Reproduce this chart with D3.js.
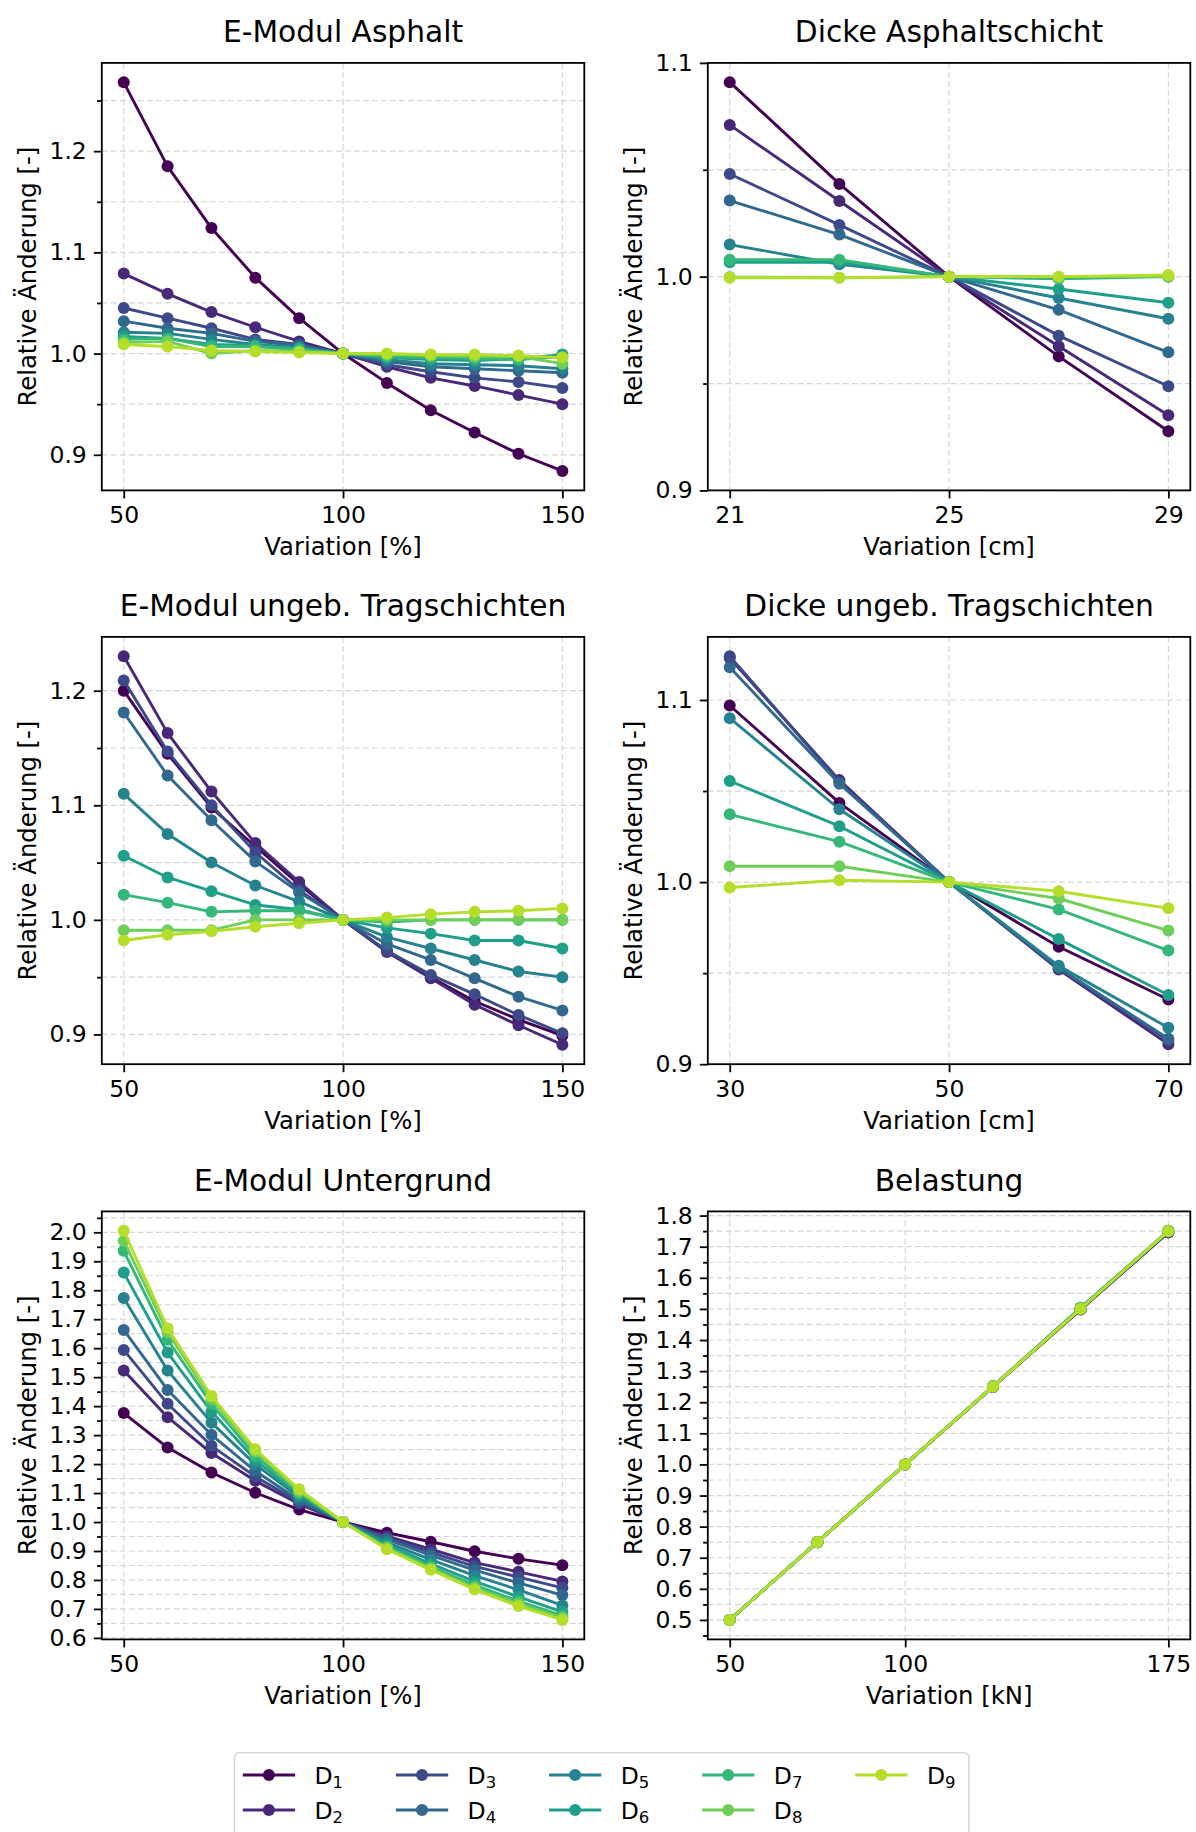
<!DOCTYPE html>
<html>
<head>
<meta charset="utf-8">
<script src="https://cdn.jsdelivr.net/npm/d3@7"></script>
<style>
  body { margin: 0; background: #ffffff; }
  svg text { font-family: "DejaVu Sans", "Noto Sans", sans-serif; fill: #000; }
</style>
</head>
<body>
<svg id="chart" width="1196" height="1832"></svg>
<script>
// ---------------- DATA ----------------
const seriesNames = ["1", "2", "3", "4", "5", "6", "7", "8", "9"]; // D subscripts
const seriesColors = ["#440154", "#482878", "#3e4989", "#31688e", "#26828e",
                      "#1f9e89", "#35b779", "#6ece58", "#b5de2b"];

const panelTitles = ["E-Modul Asphalt", "Dicke Asphaltschicht",
                     "E-Modul ungeb. Tragschichten", "Dicke ungeb. Tragschichten",
                     "E-Modul Untergrund", "Belastung"];
const xAxisLabels = ["Variation [%]", "Variation [cm]", "Variation [%]",
                     "Variation [cm]", "Variation [%]", "Variation [kN]"];
const yAxisLabel = "Relative Änderung [-]";

const xPercent = [50, 60, 70, 80, 90, 100, 110, 120, 130, 140, 150];
const xAsphaltThickness = [21, 23, 25, 27, 29];
const xBaseThickness = [30, 40, 50, 60, 70];
const xLoad = [50, 75, 100, 125, 150, 175];

const xTicksPercent = [50, 100, 150];
const xTicksAsphaltThickness = [21, 25, 29];
const xTicksBaseThickness = [30, 50, 70];
const xTicksLoad = [50, 100, 175];

// E-Modul Asphalt (rows D1..D9)
const eModulAsphalt = [
  [1.268, 1.185, 1.124, 1.075, 1.035, 1.0, 0.971, 0.944, 0.922, 0.901, 0.884],
  [1.079, 1.059, 1.041, 1.026, 1.012, 1.0, 0.987, 0.976, 0.968, 0.959, 0.950],
  [1.045, 1.035, 1.025, 1.014, 1.009, 1.0, 0.989, 0.982, 0.976, 0.972, 0.966],
  [1.032, 1.025, 1.020, 1.012, 1.008, 1.0, 0.992, 0.987, 0.985, 0.983, 0.981],
  [1.021, 1.020, 1.014, 1.009, 1.006, 1.0, 0.994, 0.990, 0.989, 0.988, 0.985],
  [1.017, 1.015, 1.009, 1.008, 1.005, 1.0, 0.996, 0.994, 0.993, 0.995, 0.999],
  [1.014, 1.015, 1.007, 1.007, 1.004, 1.0, 0.997, 0.996, 0.995, 0.994, 0.997],
  [1.011, 1.012, 1.000, 1.003, 1.002, 1.0, 0.999, 0.998, 0.997, 0.997, 0.990],
  [1.009, 1.007, 1.003, 1.002, 1.001, 1.0, 1.000, 0.999, 0.999, 0.998, 0.996]
];

// Dicke Asphaltschicht
const dickeAsphalt = [
  [1.091, 1.0434, 1.0, 0.9627, 0.9277],
  [1.071, 1.0354, 1.0, 0.9674, 0.9352],
  [1.048, 1.0242, 1.0, 0.9724, 0.9487],
  [1.0356, 1.0197, 1.0, 0.9845, 0.9646],
  [1.015, 1.0058, 1.0, 0.9900, 0.9803],
  [1.0067, 1.0067, 1.0, 0.9942, 0.9878],
  [1.0079, 1.0079, 1.0, 0.9990, 1.0000],
  [0.9998, 0.9995, 1.0, 1.0000, 1.0000],
  [0.9995, 0.9995, 1.0, 1.0000, 1.0008]
];

// E-Modul ungeb. Tragschichten
const eModulTragschicht = [
  [1.200, 1.145, 1.098, 1.064, 1.031, 1.0, 0.973, 0.950, 0.929, 0.913, 0.899],
  [1.230, 1.163, 1.112, 1.067, 1.033, 1.0, 0.972, 0.949, 0.926, 0.908, 0.891],
  [1.209, 1.147, 1.100, 1.059, 1.026, 1.0, 0.973, 0.952, 0.935, 0.917, 0.901],
  [1.181, 1.126, 1.087, 1.051, 1.024, 1.0, 0.979, 0.965, 0.949, 0.933, 0.921],
  [1.110, 1.075, 1.050, 1.030, 1.016, 1.0, 0.985, 0.975, 0.965, 0.955, 0.950],
  [1.056, 1.037, 1.025, 1.013, 1.009, 1.0, 0.993, 0.988, 0.982, 0.982, 0.975],
  [1.022, 1.015, 1.007, 1.008, 1.008, 1.0, 0.998, 1.000, 1.000, 1.000, 1.000],
  [0.991, 0.991, 0.991, 1.000, 1.000, 1.0, 1.000, 1.000, 1.000, 1.000, 1.000],
  [0.982, 0.987, 0.990, 0.994, 0.997, 1.0, 1.002, 1.005, 1.007, 1.008, 1.010]
];

// Dicke ungeb. Tragschichten
const dickeTragschicht = [
  [1.097, 1.0435, 1.0, 0.9645, 0.9355],
  [1.123, 1.056, 1.0, 0.952, 0.911],
  [1.124, 1.055, 1.0, 0.9525, 0.913],
  [1.118, 1.054, 1.0, 0.953, 0.914],
  [1.090, 1.040, 1.0, 0.954, 0.920],
  [1.0555, 1.0307, 1.0, 0.9687, 0.938],
  [1.0372, 1.0222, 1.0, 0.985, 0.9624],
  [1.0087, 1.0087, 1.0, 0.991, 0.9734],
  [0.997, 1.001, 1.0, 0.995, 0.9856]
];

// E-Modul Untergrund
const eModulUntergrund = [
  [1.376, 1.257, 1.171, 1.101, 1.043, 1.0, 0.963, 0.932, 0.899, 0.873, 0.851],
  [1.523, 1.362, 1.238, 1.142, 1.062, 1.0, 0.951, 0.906, 0.860, 0.828, 0.795],
  [1.594, 1.408, 1.263, 1.157, 1.068, 1.0, 0.946, 0.895, 0.847, 0.810, 0.773],
  [1.663, 1.456, 1.301, 1.176, 1.075, 1.0, 0.940, 0.885, 0.834, 0.790, 0.748],
  [1.773, 1.523, 1.343, 1.199, 1.085, 1.0, 0.930, 0.870, 0.815, 0.766, 0.712],
  [1.861, 1.585, 1.381, 1.214, 1.093, 1.0, 0.922, 0.856, 0.795, 0.742, 0.690],
  [1.936, 1.629, 1.408, 1.228, 1.100, 1.0, 0.915, 0.846, 0.782, 0.727, 0.677],
  [1.971, 1.655, 1.424, 1.243, 1.106, 1.0, 0.910, 0.840, 0.773, 0.718, 0.670],
  [2.005, 1.669, 1.435, 1.251, 1.113, 1.0, 0.906, 0.835, 0.767, 0.710, 0.662]
];

// Belastung
const belastung = [
  [0.500, 0.750, 1.0, 1.249, 1.498, 1.746],
  [0.500, 0.750, 1.0, 1.249, 1.499, 1.747],
  [0.500, 0.750, 1.0, 1.250, 1.500, 1.748],
  [0.500, 0.751, 1.0, 1.250, 1.501, 1.749],
  [0.500, 0.751, 1.0, 1.251, 1.503, 1.750],
  [0.500, 0.751, 1.0, 1.251, 1.504, 1.751],
  [0.500, 0.751, 1.0, 1.251, 1.503, 1.751],
  [0.500, 0.751, 1.0, 1.251, 1.502, 1.751],
  [0.500, 0.750, 1.0, 1.250, 1.500, 1.750]
];

// ---------------- LAYOUT ----------------
const svg = d3.select("#chart");
const colBounds = [[101.8, 584.3], [707.8, 1190.3]];
const rowBounds = [[62.9, 490.4], [636.9, 1064.2], [1211.4, 1639.4]];

const panels = [
  { data: eModulAsphalt, xs: xPercent, xTicks: xTicksPercent, yFix: [null, null] },
  { data: dickeAsphalt, xs: xAsphaltThickness, xTicks: xTicksAsphaltThickness, yFix: [0.9, 1.1] },
  { data: eModulTragschicht, xs: xPercent, xTicks: xTicksPercent, yFix: [null, null] },
  { data: dickeTragschicht, xs: xBaseThickness, xTicks: xTicksBaseThickness, yFix: [0.9, null] },
  { data: eModulUntergrund, xs: xPercent, xTicks: xTicksPercent, yFix: [null, null] },
  { data: belastung, xs: xLoad, xTicks: xTicksLoad, yFix: [null, null] }
];

const FONT_TICK = 23.5, FONT_LABEL = 24.3, FONT_TITLE = 29.7;
const GRID_COLOR = "#d6d6d6";
const MARKER_R = 6.0;

panels.forEach((p, idx) => {
  const col = idx % 2, row = Math.floor(idx / 2);
  const [x0, x1] = colBounds[col];
  const [y0, y1] = rowBounds[row];

  const xExt = d3.extent(p.xs);
  const xPad = (xExt[1] - xExt[0]) * 0.05;
  const x = d3.scaleLinear().domain([xExt[0] - xPad, xExt[1] + xPad]).range([x0, x1]);

  const allY = p.data.flat();
  const yExt = d3.extent(allY);
  const yPad = (yExt[1] - yExt[0]) * 0.05;
  const yLo = p.yFix[0] !== null ? p.yFix[0] : yExt[0] - yPad;
  const yHi = p.yFix[1] !== null ? p.yFix[1] : yExt[1] + yPad;
  const y = d3.scaleLinear().domain([yLo, yHi]).range([y1, y0]);

  const kLo = Math.ceil(yLo * 20 - 1e-6), kHi = Math.floor(yHi * 20 + 1e-6);
  const majorY = [], minorY = [];
  for (let k = kLo; k <= kHi; k++) {
    if (k % 2 === 0) majorY.push(k / 20); else minorY.push(k / 20);
  }

  const g = svg.append("g");

  // grid
  const grid = g.append("g");
  majorY.concat(minorY).forEach(v => {
    grid.append("line").attr("x1", x0).attr("x2", x1).attr("y1", y(v)).attr("y2", y(v))
      .attr("stroke", GRID_COLOR).attr("stroke-width", 1.2).attr("stroke-dasharray", "6,3");
  });
  p.xTicks.forEach(v => {
    grid.append("line").attr("x1", x(v)).attr("x2", x(v)).attr("y1", y0).attr("y2", y1)
      .attr("stroke", GRID_COLOR).attr("stroke-width", 1.2).attr("stroke-dasharray", "6,3");
  });

  // series
  const line = d3.line().x((d, i) => x(p.xs[i])).y(d => y(d));
  p.data.forEach((vals, si) => {
    const sg = g.append("g");
    sg.append("path").datum(vals).attr("d", line)
      .attr("fill", "none").attr("stroke", seriesColors[si]).attr("stroke-width", 2.9)
      .attr("stroke-linejoin", "round");
    sg.selectAll("circle").data(vals).join("circle")
      .attr("cx", (d, i) => x(p.xs[i])).attr("cy", d => y(d)).attr("r", MARKER_R)
      .attr("fill", seriesColors[si]);
  });

  // frame
  g.append("rect").attr("x", x0).attr("y", y0).attr("width", x1 - x0).attr("height", y1 - y0)
    .attr("fill", "none").attr("stroke", "#000").attr("stroke-width", 1.8);

  // axes
  const xAxis = d3.axisBottom(x).tickValues(p.xTicks).tickFormat(d3.format("d"))
    .tickSize(8).tickPadding(8).tickSizeOuter(0);
  const gx = g.append("g").attr("transform", `translate(0,${y1})`).call(xAxis);
  const yAxis = d3.axisLeft(y).tickValues(majorY).tickFormat(d3.format(".1f"))
    .tickSize(8).tickPadding(7).tickSizeOuter(0);
  const gy = g.append("g").attr("transform", `translate(${x0},0)`).call(yAxis);
  const yAxisMinor = d3.axisLeft(y).tickValues(minorY).tickFormat("")
    .tickSize(4.7).tickSizeOuter(0);
  const gym = g.append("g").attr("transform", `translate(${x0},0)`).call(yAxisMinor);
  [gx, gy, gym].forEach(a => {
    a.select(".domain").remove();
    a.selectAll(".tick line").attr("stroke", "#000").attr("stroke-width", 1.8);
    a.selectAll(".tick text").attr("font-size", FONT_TICK)
      .attr("font-family", "DejaVu Sans").attr("fill", "#000");
  });

  // labels
  g.append("text").attr("x", (x0 + x1) / 2).attr("y", y0 - 20.5)
    .attr("text-anchor", "middle").attr("font-size", FONT_TITLE).text(panelTitles[idx]);
  g.append("text").attr("x", (x0 + x1) / 2).attr("y", y1 + 65)
    .attr("text-anchor", "middle").attr("font-size", FONT_LABEL).text(xAxisLabels[idx]);
  g.append("text")
    .attr("transform", `translate(${x0 - 66},${(y0 + y1) / 2}) rotate(-90)`)
    .attr("text-anchor", "middle").attr("font-size", FONT_LABEL).text(yAxisLabel);
});

// ---------------- LEGEND ----------------
const legend = svg.append("g");
legend.append("rect").attr("x", 234.5).attr("y", 1752.7).attr("width", 734.5).attr("height", 120)
  .attr("rx", 5).attr("fill", "#fff").attr("stroke", "#d5d5d5").attr("stroke-width", 1.6);
const colStep = 153.1, legendX0 = 242.8, rowYs = [1775, 1810];
seriesNames.forEach((name, i) => {
  const c = Math.floor(i / 2), r = i % 2;
  const lx = legendX0 + c * colStep, ly = rowYs[r];
  legend.append("line").attr("x1", lx).attr("x2", lx + 52.3).attr("y1", ly).attr("y2", ly)
    .attr("stroke", seriesColors[i]).attr("stroke-width", 2.9);
  legend.append("circle").attr("cx", lx + 26.1).attr("cy", ly).attr("r", MARKER_R)
    .attr("fill", seriesColors[i]);
  const t = legend.append("text").attr("x", lx + 71.7).attr("y", ly + 8.5)
    .attr("font-size", 23.5);
  t.append("tspan").text("D");
  t.append("tspan").attr("font-size", 16.5).attr("dy", 4.5).text(name);
});
</script>
</body>
</html>
